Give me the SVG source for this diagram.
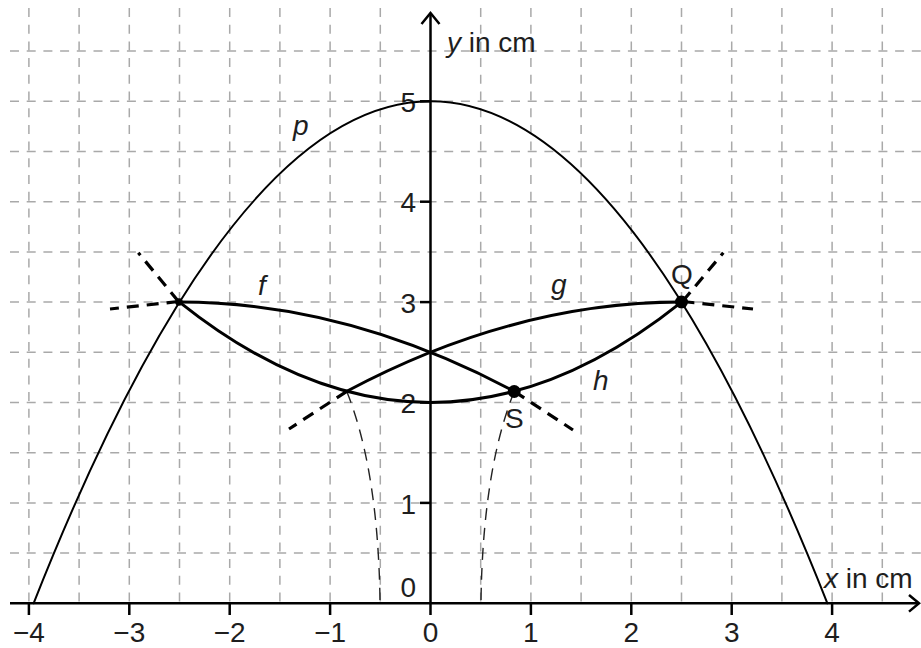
<svg xmlns="http://www.w3.org/2000/svg" width="921" height="648" viewBox="0 0 921 648">
<style>
.grid line{stroke:#a9a9a9;stroke-width:1.5;stroke-dasharray:9 7.7}
.axis{stroke:#000;stroke-width:2.5;fill:none}
.tick{stroke:#000;stroke-width:2.5}
.curve{fill:none;stroke:#000;stroke-linecap:round}
.thin{stroke-width:2}
.thick{stroke-width:3}
.ext{fill:none;stroke:#000;stroke-width:3.2;stroke-dasharray:12 8}
.aux{fill:none;stroke:#222;stroke-width:1.4;stroke-dasharray:12 8}
text{font-family:"Liberation Sans",Arial,sans-serif;font-size:28px;fill:#1e1e1e}
.it{font-style:italic}
.xl{text-anchor:middle}
.yl{text-anchor:end}
</style>
<rect width="921" height="648" fill="#fff"/>
<g id="grid" class="grid">
<line x1="28.9" y1="8" x2="28.9" y2="603"/>
<line x1="79.1" y1="8" x2="79.1" y2="603"/>
<line x1="129.3" y1="8" x2="129.3" y2="603"/>
<line x1="179.5" y1="8" x2="179.5" y2="603"/>
<line x1="229.7" y1="8" x2="229.7" y2="603"/>
<line x1="279.9" y1="8" x2="279.9" y2="603"/>
<line x1="330.1" y1="8" x2="330.1" y2="603"/>
<line x1="380.3" y1="8" x2="380.3" y2="603"/>
<line x1="480.7" y1="8" x2="480.7" y2="603"/>
<line x1="530.9" y1="8" x2="530.9" y2="603"/>
<line x1="581.1" y1="8" x2="581.1" y2="603"/>
<line x1="631.3" y1="8" x2="631.3" y2="603"/>
<line x1="681.5" y1="8" x2="681.5" y2="603"/>
<line x1="731.7" y1="8" x2="731.7" y2="603"/>
<line x1="781.9" y1="8" x2="781.9" y2="603"/>
<line x1="832.1" y1="8" x2="832.1" y2="603"/>
<line x1="882.3" y1="8" x2="882.3" y2="603"/>
<line x1="10" y1="553.1" x2="921" y2="553.1"/>
<line x1="10" y1="502.9" x2="921" y2="502.9"/>
<line x1="10" y1="452.7" x2="921" y2="452.7"/>
<line x1="10" y1="402.5" x2="921" y2="402.5"/>
<line x1="10" y1="352.3" x2="921" y2="352.3"/>
<line x1="10" y1="302.1" x2="921" y2="302.1"/>
<line x1="10" y1="251.9" x2="921" y2="251.9"/>
<line x1="10" y1="201.7" x2="921" y2="201.7"/>
<line x1="10" y1="151.5" x2="921" y2="151.5"/>
<line x1="10" y1="101.3" x2="921" y2="101.3"/>
<line x1="10" y1="51.1" x2="921" y2="51.1"/>
</g>
<g id="axes">
<line class="axis" x1="10" y1="603.3" x2="919" y2="603.3"/>
<polyline class="axis" points="909,595 919,603.3 909,611.6"/>
<line class="axis" x1="430.5" y1="603.3" x2="430.5" y2="13"/>
<polyline class="axis" points="421.5,24 430.5,13 439.5,24"/>
<g class="tick">
<line x1="28.9" y1="603" x2="28.9" y2="615"/>
<line x1="129.3" y1="603" x2="129.3" y2="615"/>
<line x1="229.7" y1="603" x2="229.7" y2="615"/>
<line x1="330.1" y1="603" x2="330.1" y2="615"/>
<line x1="430.5" y1="603" x2="430.5" y2="615"/>
<line x1="530.9" y1="603" x2="530.9" y2="615"/>
<line x1="631.3" y1="603" x2="631.3" y2="615"/>
<line x1="731.7" y1="603" x2="731.7" y2="615"/>
<line x1="832.1" y1="603" x2="832.1" y2="615"/>
<line x1="420" y1="502.9" x2="430.5" y2="502.9"/>
<line x1="420" y1="402.5" x2="430.5" y2="402.5"/>
<line x1="420" y1="302.1" x2="430.5" y2="302.1"/>
<line x1="420" y1="201.7" x2="430.5" y2="201.7"/>
<line x1="420" y1="101.3" x2="430.5" y2="101.3"/>
</g>
<g id="tick-labels">
<text class="xl" x="28.9" y="642">−4</text>
<text class="xl" x="129.3" y="642">−3</text>
<text class="xl" x="229.7" y="642">−2</text>
<text class="xl" x="330.1" y="642">−1</text>
<text class="xl" x="430.5" y="642">0</text>
<text class="xl" x="530.9" y="642">1</text>
<text class="xl" x="631.3" y="642">2</text>
<text class="xl" x="731.7" y="642">3</text>
<text class="xl" x="832.1" y="642">4</text>
<text class="yl" x="416" y="597">0</text>
<text class="yl" x="416" y="513.5">1</text>
<text class="yl" x="416" y="413">2</text>
<text class="yl" x="416" y="312.5">3</text>
<text class="yl" x="416" y="212">4</text>
<text class="yl" x="416" y="112">5</text>
</g>
<text id="y-title" x="447" y="52"><tspan class="it">y</tspan> in cm</text>
<text id="x-title" x="824" y="588"><tspan class="it">x</tspan> in cm</text>
</g>
<g id="connectors">
<path id="aux-left" class="aux" d="M380,600 Q378,470 347,392"/>
<path id="aux-right" class="aux" d="M481,600 Q483,470 514,392"/>
<path id="ext-L-h" class="ext" d="M178.5,301.5 L138.3,252.7"/>
<path id="ext-L-f" class="ext" d="M178.5,301.5 L110,309"/>
<path id="ext-Q-h" class="ext" d="M682.5,301.5 L723.3,252.7"/>
<path id="ext-Q-g" class="ext" d="M682.5,301.5 L753,309"/>
<path id="ext-S-f" class="ext" d="M514.2,391.3 L573,430"/>
<path id="ext-T-g" class="ext" d="M346.8,391.3 L289,429"/>
</g>
<g id="curve-p">
<path class="curve thin" d="M33.6,603.3 Q430.5,-400.7 827.4,603.3"/>
<text class="it" x="293" y="135">p</text>
</g>
<g id="curve-f">
<path class="curve thick" d="M179.5,302.1 Q346.8,302.1 514.2,391.3"/>
<text class="it" x="258" y="295">f</text>
</g>
<g id="curve-g">
<path class="curve thick" d="M346.8,391.3 Q514.2,302.1 681.5,302.1"/>
<text class="it" x="551" y="294">g</text>
</g>
<g id="curve-h">
<path class="curve thick" d="M179.5,302.1 Q430.5,502.9 681.5,302.1"/>
<text class="it" x="593" y="390">h</text>
</g>
<g id="point-L">
<circle cx="179" cy="302" r="3.8" fill="#000"/>
</g>
<g id="point-Q">
<circle cx="681.5" cy="302" r="6.5" fill="#000"/>
<text x="671" y="284">Q</text>
</g>
<g id="point-S">
<circle cx="514.2" cy="391.5" r="6.5" fill="#000"/>
<text x="505" y="428">S</text>
</g>
</svg>
